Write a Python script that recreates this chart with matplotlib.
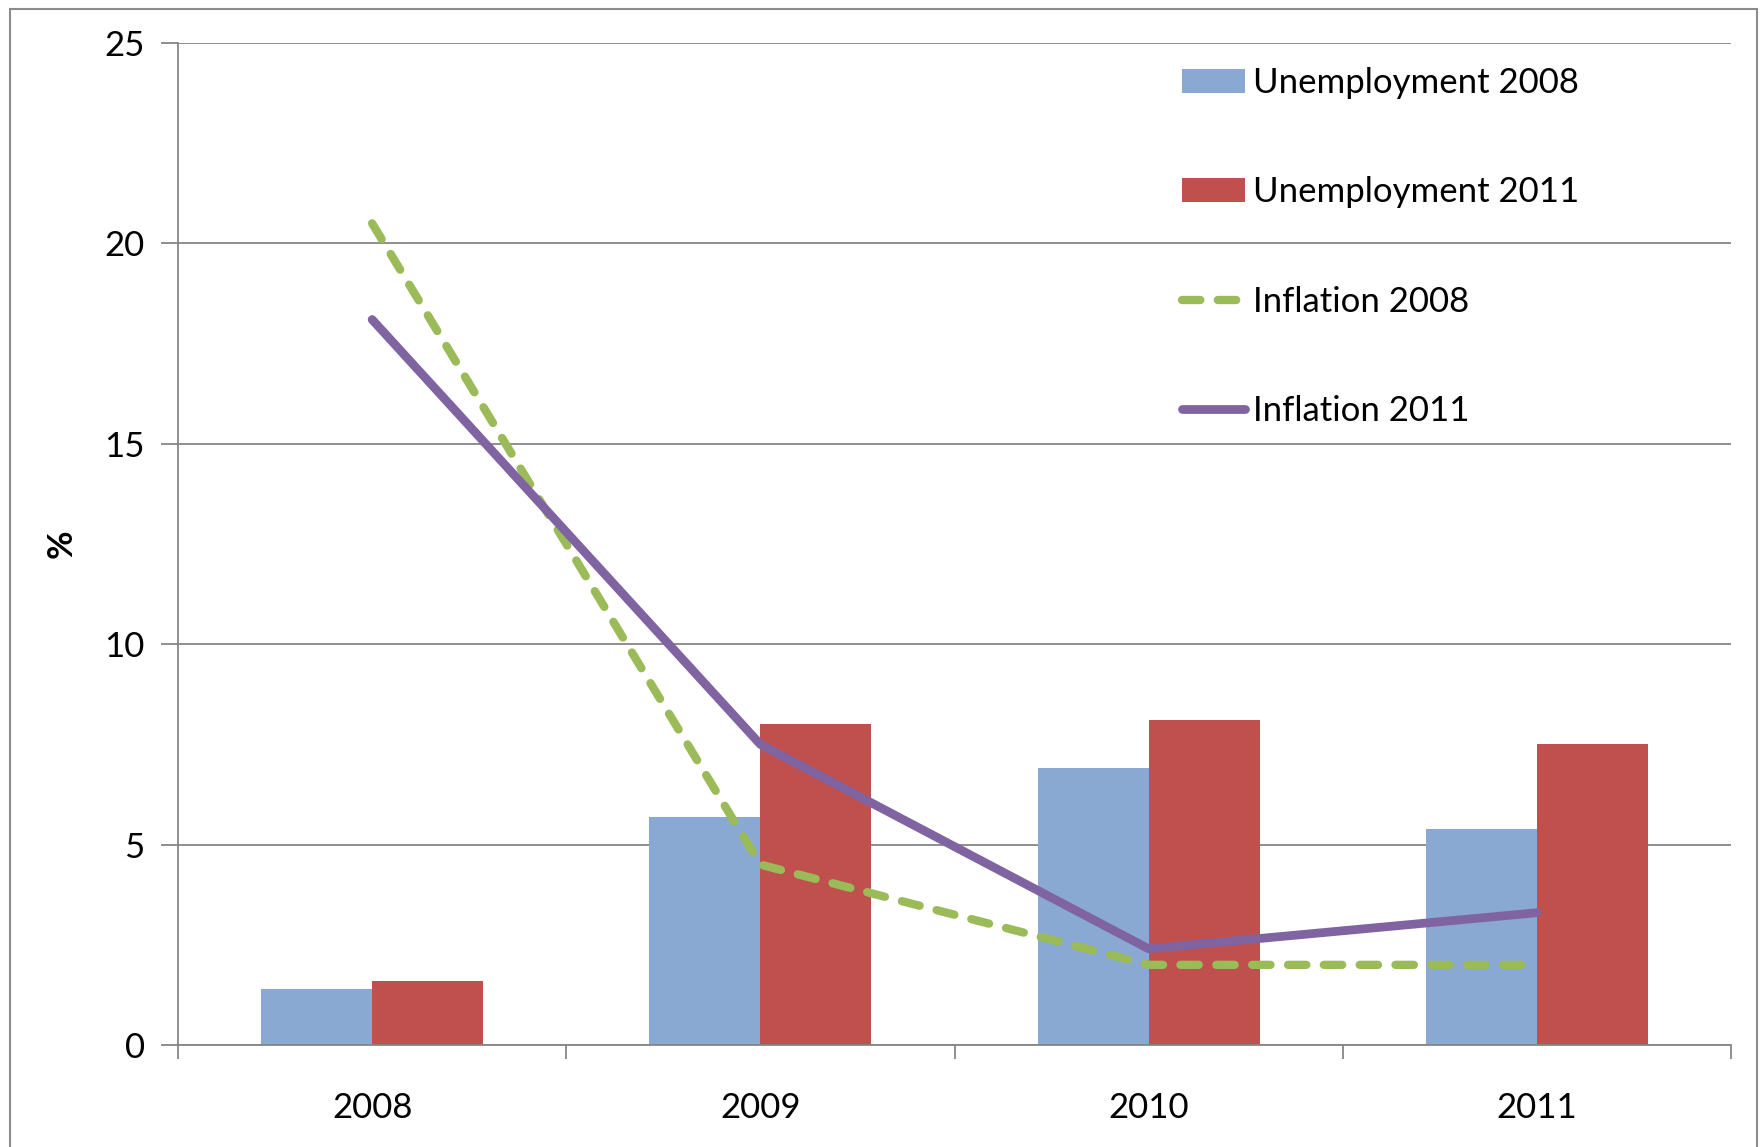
import matplotlib
matplotlib.use("Agg")
import matplotlib.pyplot as plt
import numpy as np
from matplotlib.patches import Rectangle

categories = ["2008", "2009", "2010", "2011"]
unemployment_2008 = [1.4, 5.7, 6.9, 5.4]
unemployment_2011 = [1.6, 8.0, 8.1, 7.5]
inflation_2008 = [20.5, 4.5, 2.0, 2.0]
inflation_2011 = [18.1, 7.5, 2.4, 3.3]
y_ticks = [0, 5, 10, 15, 20, 25]

plt.rcParams['font.family'] = ['Lato', 'DejaVu Sans']

BLUE = "#89A9D3"
RED = "#C0504D"
GREEN = "#9BBB59"
PURPLE = "#8064A2"
GRID = "#868686"
FS = 25

fig = plt.figure(figsize=(17.6, 11.47), dpi=100)
# outer chart frame
fig.patches.append(Rectangle((10/1760, -0.05), (1757-10)/1760, 1 + 0.05 - 9/1147,
                             transform=fig.transFigure, fill=False,
                             edgecolor="#8c8c8c", linewidth=1.5))

ax = fig.add_axes([178/1760, 1 - 1045/1147, (1731-178)/1760, (1045-43)/1147])

x = np.arange(len(categories))
w = 1 / 3.5
b1 = ax.bar(x - w/2, unemployment_2008, width=w, color=BLUE, label="Unemployment 2008", zorder=2)
b2 = ax.bar(x + w/2, unemployment_2011, width=w, color=RED, label="Unemployment 2011", zorder=2)
l1, = ax.plot(x, inflation_2008, color=GREEN, linewidth=6, linestyle=(0, (2.2, 2.1)),
              dash_capstyle='round', solid_capstyle='round', label="Inflation 2008", zorder=3)
l2, = ax.plot(x, inflation_2011, color=PURPLE, linewidth=6.3, solid_capstyle='round',
              solid_joinstyle='round', label="Inflation 2011", zorder=3)

ax.set_xlim(-0.5, len(categories) - 0.5)
ax.set_ylim(0, 25)
ax.set_yticks(y_ticks)
ax.set_yticklabels([str(v) for v in y_ticks], fontsize=FS)
ax.set_xticks(x)
ax.set_xticklabels(categories, fontsize=FS)
ax.set_xticks(np.arange(len(categories) + 1) - 0.5, minor=True)
ax.tick_params(axis='x', which='major', length=0, pad=34)
ax.tick_params(axis='x', which='minor', length=10, width=1.3, color=GRID)
ax.tick_params(axis='y', which='major', length=12, width=1.3, color=GRID, pad=12)

ax.yaxis.grid(True, color=GRID, linewidth=1.3, zorder=0)
ax.set_axisbelow(True)
for s in ["top", "right"]:
    ax.spines[s].set_visible(False)
for s in ["left", "bottom"]:
    ax.spines[s].set_color(GRID)
    ax.spines[s].set_linewidth(1.3)

ax.text((62 - 178) / 1553, 0.5, "%", transform=ax.transAxes, rotation=90,
        ha='center', va='center', fontsize=FS, fontweight='bold')

leg = ax.legend([b1, b2, l1, l2],
                ["Unemployment 2008", "Unemployment 2011", "Inflation 2008", "Inflation 2011"],
                loc="upper left", bbox_to_anchor=(1182/1760, 1 - 67/1147),
                bbox_transform=fig.transFigure, frameon=False, fontsize=25,
                handlelength=1.8, handletextpad=0.25, labelspacing=2.23,
                borderpad=0, borderaxespad=0)

fig.savefig("out.png", dpi=100)
